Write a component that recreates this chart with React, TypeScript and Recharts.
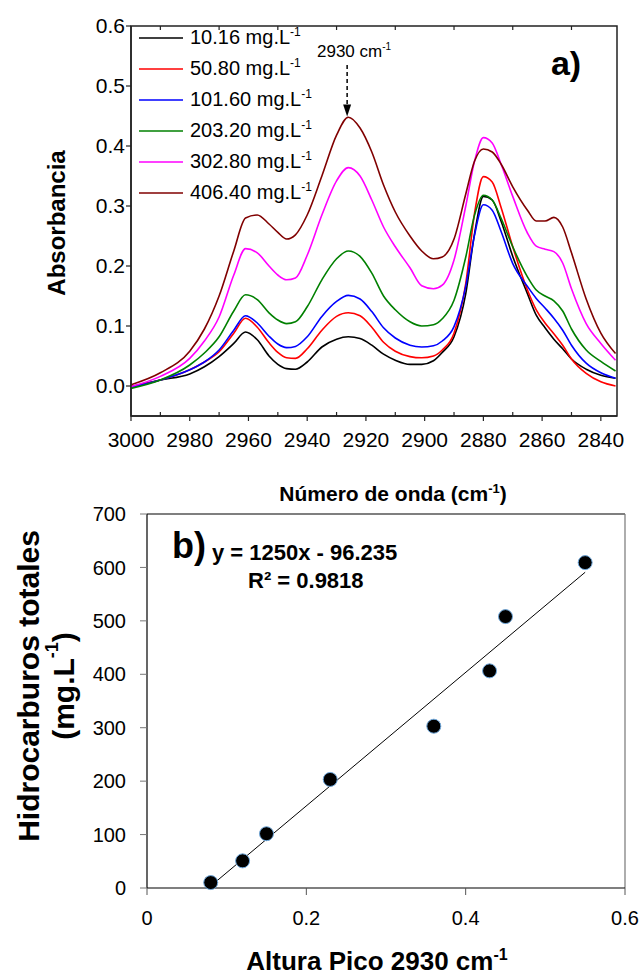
import React from "react";
import {
  LineChart,
  Line,
  XAxis,
  YAxis,
  ReferenceArea,
  ReferenceLine,
  ReferenceDot,
  Legend,
  ComposedChart,
  Scatter,
} from "recharts";

const FONT = "'Liberation Sans', Arial, sans-serif";

// ---- a) FTIR spectra ----
const WAVENUMBER = [
  3000, 2990, 2980, 2975, 2970, 2965, 2961, 2957, 2953, 2950, 2947, 2944, 2940, 2935, 2930, 2926, 2922, 2918, 2914,
  2910, 2905, 2901, 2897, 2894, 2890, 2886, 2883, 2880, 2877, 2874, 2870, 2865, 2862, 2859, 2856, 2853, 2850, 2845,
  2840, 2835,
];

const C_10 = [
  -0.001, 0.01, 0.02, 0.032, 0.049, 0.071, 0.09, 0.077, 0.05, 0.036, 0.029, 0.028, 0.04, 0.065, 0.078, 0.082, 0.079,
  0.068, 0.053, 0.043, 0.036, 0.036, 0.042, 0.056, 0.082, 0.154, 0.254, 0.316, 0.31, 0.275, 0.216, 0.154, 0.118, 0.097,
  0.078, 0.062, 0.045, 0.028, 0.018, 0.013,
];
const C_50 = [
  -0.001, 0.01, 0.027, 0.04, 0.057, 0.088, 0.113, 0.098, 0.072, 0.056, 0.047, 0.046, 0.062, 0.093, 0.116, 0.122, 0.117,
  0.098, 0.073, 0.058, 0.049, 0.047, 0.05, 0.06, 0.088, 0.171, 0.288, 0.349, 0.34, 0.298, 0.232, 0.16, 0.127, 0.105,
  0.087, 0.068, 0.045, 0.021, 0.007, 0.0,
];
const C_101 = [
  -0.002, 0.01, 0.027, 0.04, 0.06, 0.093, 0.117, 0.105, 0.083, 0.07, 0.064, 0.066, 0.082, 0.116, 0.141, 0.151, 0.145,
  0.124, 0.097, 0.08, 0.068, 0.065, 0.067, 0.075, 0.099, 0.166, 0.252, 0.302, 0.293, 0.258, 0.204, 0.166, 0.146, 0.13,
  0.113, 0.093, 0.068, 0.038, 0.022, 0.013,
];
const C_203 = [
  -0.004, 0.01, 0.035, 0.055, 0.082, 0.125, 0.152, 0.144, 0.122, 0.11, 0.104, 0.107, 0.132, 0.177, 0.212, 0.225, 0.216,
  0.188, 0.15, 0.127, 0.107, 0.1, 0.102, 0.112, 0.143, 0.215, 0.285, 0.318, 0.31, 0.28, 0.232, 0.182, 0.16, 0.15, 0.142,
  0.125, 0.095, 0.06, 0.041, 0.025,
];
const C_302 = [
  -0.001, 0.016, 0.046, 0.075, 0.115, 0.185, 0.229, 0.222, 0.2, 0.185, 0.177, 0.18, 0.218, 0.285, 0.342, 0.364, 0.35,
  0.31, 0.265, 0.232, 0.197, 0.167, 0.162, 0.168, 0.21, 0.3, 0.375, 0.414, 0.405, 0.37, 0.316, 0.255, 0.233, 0.228,
  0.224, 0.205, 0.162, 0.104, 0.071, 0.043,
];
const C_406 = [
  0.002, 0.022, 0.058, 0.095, 0.15, 0.225, 0.28, 0.285, 0.27, 0.256, 0.245, 0.252, 0.285, 0.35, 0.418, 0.448, 0.43,
  0.39, 0.335, 0.29, 0.25, 0.225, 0.212, 0.215, 0.245, 0.32, 0.375, 0.395, 0.39, 0.37, 0.332, 0.293, 0.275, 0.275, 0.281,
  0.265, 0.222, 0.145, 0.088, 0.054,
];

const SERIES = [
  { key: "c10", label: "10.16", color: "#000000", values: C_10 },
  { key: "c50", label: "50.80", color: "#ff0000", values: C_50 },
  { key: "c101", label: "101.60", color: "#0000ff", values: C_101 },
  { key: "c203", label: "203.20", color: "#008000", values: C_203 },
  { key: "c302", label: "302.80", color: "#ff00ff", values: C_302 },
  { key: "c406", label: "406.40", color: "#800000", values: C_406 },
];

const WN_TICKS = [3000, 2990, 2980, 2970, 2960, 2950, 2940, 2930, 2920, 2910, 2900, 2890, 2880, 2870, 2860, 2850, 2840];
const WN_MINOR = [2990, 2970, 2950, 2930, 2910, 2890, 2870, 2850];
const ABS_TICKS = [0, 0.1, 0.2, 0.3, 0.4, 0.5, 0.6];
const PEAK_WN = 2926.4;

// ---- b) calibration ----
const PEAK_HEIGHT = [0.08, 0.12, 0.15, 0.23, 0.36, 0.43, 0.45, 0.55];
const TOTAL_HC = [10.16, 50.8, 101.6, 203.2, 302.8, 406.4, 508, 609];
const TREND_X = [0.085, 0.55];
const TREND_Y = [10, 591];
const HEIGHT_TICKS = [0, 0.2, 0.4, 0.6];
const HC_TICKS = [0, 100, 200, 300, 400, 500, 600, 700];

const spectra = WAVENUMBER.map((wn, i) => {
  const row: Record<string, number> = { wn };
  SERIES.forEach((s) => (row[s.key] = s.values[i]));
  return row;
});
const points = PEAK_HEIGHT.map((x, i) => ({ x, y: TOTAL_HC[i] }));
const trend = TREND_X.map((x, i) => ({ x, y: TREND_Y[i] }));

const WnTick = (props: any) => {
  const { x, y, payload } = props;
  const major = payload.value % 20 === 0;
  if (!major) return <line x1={x} x2={x} y1={y} y2={y - 4} stroke="#222" strokeWidth={1.2} />;
  return (
    <g>
      <line x1={x} x2={x} y1={y} y2={y + 5} stroke="#222" strokeWidth={1.2} />
      <text x={x} y={y + 31} textAnchor="middle" fontSize={21} fontFamily={FONT} fill="#000">
        {payload.value}
      </text>
    </g>
  );
};

const TopTick = (props: any) => {
  const { x, y } = props;
  return <line x1={x} x2={x} y1={y} y2={y + 4} stroke="#222" strokeWidth={1.2} />;
};

const ArrowHead = (props: any) => {
  const { cx, cy } = props;
  return <polygon points={`${cx - 4},${cy - 12} ${cx + 4},${cy - 12} ${cx},${cy}`} fill="#000" />;
};

const Dot = (props: any) => (
  <circle cx={props.cx} cy={props.cy} r={7} fill="#000" stroke="#6fa8dc" strokeWidth={1} />
);

const LegendBox = () => (
  <div style={{ fontFamily: FONT, fontSize: 20, color: "#000" }}>
    {SERIES.map((s) => (
      <div key={s.key} style={{ display: "flex", alignItems: "center", height: 31, whiteSpace: "nowrap" }}>
        <svg width={44} height={4} style={{ marginRight: 7 }}>
          <line x1={0} x2={44} y1={2} y2={2} stroke={s.color} strokeWidth={1.6} />
        </svg>
        <span>
          {s.label} mg.L
          <span style={{ fontSize: 12, position: "relative", top: -8 }}>-1</span>
        </span>
      </div>
    ))}
  </div>
);

export default function App() {
  return (
    <div style={{ position: "absolute", left: 0, top: 0, width: 642, height: 979, background: "#fff" }}>
      <div style={{ position: "absolute", left: 0, top: 0 }}>
        <LineChart width={642} height={505} data={spectra} margin={{ top: 25, right: 25, bottom: 59, left: 71 }}>
          <XAxis
            type="number"
            dataKey="wn"
            domain={[2834.5, 3000]}
            reversed
            allowDataOverflow
            ticks={WN_TICKS}
            interval={0}
            tick={<WnTick />}
            tickSize={0}
            tickMargin={0}
            tickLine={false}
            axisLine={{ stroke: "#222", strokeWidth: 1.5 }}
            height={30}
          />
          <XAxis
            xAxisId="top"
            orientation="top"
            type="number"
            dataKey="wn"
            domain={[2834.5, 3000]}
            reversed
            allowDataOverflow
            ticks={WN_MINOR}
            interval={0}
            tick={<TopTick />}
            tickSize={0}
            tickMargin={0}
            tickLine={false}
            axisLine={false}
            height={1}
          />
          <YAxis
            type="number"
            domain={[-0.05, 0.6]}
            allowDataOverflow
            ticks={ABS_TICKS}
            interval={0}
            tickFormatter={(v: number) => v.toFixed(1)}
            tick={{ fontSize: 21, fill: "#000", fontFamily: FONT }}
            tickSize={5}
            tickMargin={1}
            tickLine={{ stroke: "#222", strokeWidth: 1.2 }}
            axisLine={{ stroke: "#222", strokeWidth: 1.5 }}
            width={60}
          />
          <ReferenceArea
            x1={3000}
            x2={2834.5}
            y1={-0.05}
            y2={0.6}
            fill="none"
            fillOpacity={0}
            stroke="#222"
            strokeWidth={1.5}
            ifOverflow="visible"
          />
          {SERIES.map((s) => (
            <Line
              key={s.key}
              type="monotone"
              dataKey={s.key}
              stroke={s.color}
              strokeWidth={1.6}
              dot={false}
              isAnimationActive={false}
            />
          ))}
          <ReferenceLine
            segment={[
              { x: PEAK_WN, y: 0.535 },
              { x: PEAK_WN, y: 0.468 },
            ]}
            stroke="#000"
            strokeWidth={1.5}
            strokeDasharray="4 3"
            ifOverflow="visible"
          />
          <ReferenceDot x={PEAK_WN} y={0.449} shape={ArrowHead} ifOverflow="visible" />
          <Legend
            layout="vertical"
            align="center"
            verticalAlign="middle"
            content={() => <LegendBox />}
            wrapperStyle={{ position: "absolute", left: 139, top: 22, width: "auto", height: "auto" }}
          />
        </LineChart>
      </div>

      <div style={{ position: "absolute", left: 0, top: 480 }}>
        <ComposedChart width={642} height={499} margin={{ top: 34, right: 17, bottom: 51, left: 87 }}>
          <XAxis
            type="number"
            dataKey="x"
            domain={[0, 0.6]}
            ticks={HEIGHT_TICKS}
            interval={0}
            tickFormatter={(v: number) => String(v)}
            tick={{ fontSize: 20, fill: "#000", fontFamily: FONT }}
            tickSize={7}
            tickMargin={16}
            tickLine={{ stroke: "#555" }}
            axisLine={{ stroke: "#000", strokeWidth: 1.2 }}
            height={40}
          />
          <YAxis
            type="number"
            domain={[0, 700]}
            ticks={HC_TICKS}
            interval={0}
            tick={{ fontSize: 20, fill: "#000", fontFamily: FONT }}
            tickSize={7}
            tickMargin={14}
            tickLine={{ stroke: "#777" }}
            axisLine={{ stroke: "#000", strokeWidth: 1.2 }}
            width={60}
          />
          <ReferenceLine y={700} stroke="#000" strokeWidth={1.2} />
          <ReferenceLine x={0.6} stroke="#777" strokeWidth={1.2} />
          <Line
            data={trend}
            dataKey="y"
            type="linear"
            stroke="#000"
            strokeWidth={1}
            dot={false}
            isAnimationActive={false}
          />
          <Scatter data={points} dataKey="y" shape={Dot} isAnimationActive={false} />
        </ComposedChart>
      </div>

      <svg
        width={642}
        height={979}
        style={{ position: "absolute", left: 0, top: 0, pointerEvents: "none" }}
        fontFamily={FONT}
      >
        <text x={566} y={75} textAnchor="middle" fontSize={34} fontWeight="bold">
          a)
        </text>
        <text x={317} y={56.5} fontSize={17}>
          2930 cm<tspan fontSize={10} dy={-7}>-1</tspan>
        </text>
        <text x={56} y={223} transform="rotate(-90 56 223)" textAnchor="middle" fontSize={24} fontWeight="bold" dominantBaseline="central">
          Absorbancia
        </text>
        <text x={393} y={501} textAnchor="middle" fontSize={21} fontWeight="bold">
          Número de onda (cm<tspan fontSize={13} dy={-8}>-1</tspan>
          <tspan dy={8}>)</tspan>
        </text>

        <text x={172} y={558} fontSize={36} fontWeight="bold">
          b)
        </text>
        <text x={212} y={560} fontSize={22} fontWeight="bold">
          y = 1250x - 96.235
        </text>
        <text x={248} y={588} fontSize={22} fontWeight="bold">
          R² = 0.9818
        </text>
        <g transform="rotate(-90 0 0)">
          <text x={-686} y={28} textAnchor="middle" fontSize={30} fontWeight="bold" dominantBaseline="central">
            Hidrocarburos totales
          </text>
          <text x={-686} y={63} textAnchor="middle" fontSize={30} fontWeight="bold" dominantBaseline="central">
            (mg.L<tspan fontSize={18} dy={-11}>-1</tspan>
            <tspan dy={11}>)</tspan>
          </text>
        </g>
        <text x={377} y={970} textAnchor="middle" fontSize={26} fontWeight="bold">
          Altura Pico 2930 cm<tspan fontSize={16} dy={-10}>-1</tspan>
        </text>
      </svg>
    </div>
  );
}
